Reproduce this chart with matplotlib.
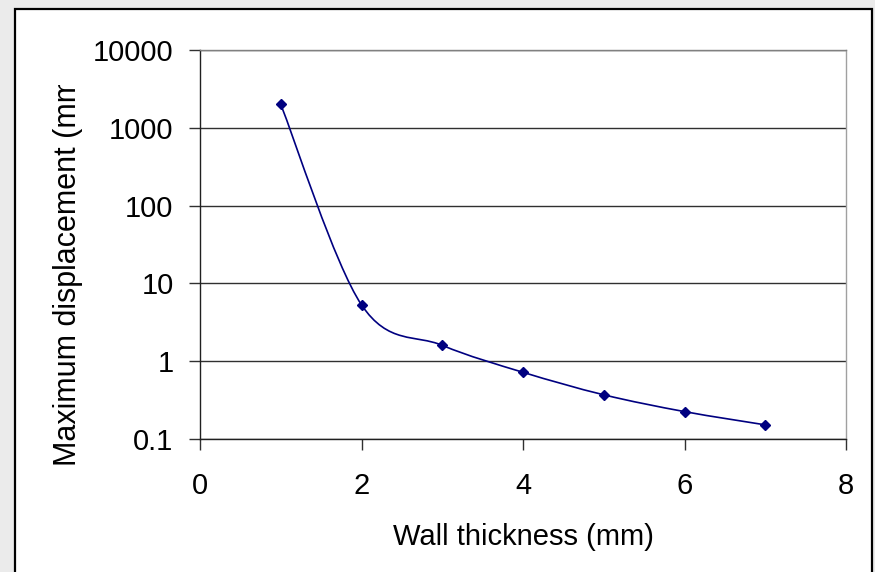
import numpy as np
import matplotlib
matplotlib.use("Agg")
import matplotlib.pyplot as plt
from matplotlib.path import Path
from matplotlib.patches import PathPatch, Rectangle
from matplotlib.transforms import Bbox

# Data
thickness = [1, 2, 3, 4, 5, 6, 7]                       # mm
displacement = [2000, 5.3, 1.6, 0.72, 0.37, 0.225, 0.152]  # mm

x_ticks = [0, 2, 4, 6, 8]
y_ticks = [0.1, 1, 10, 100, 1000, 10000]
y_tick_labels = ["0.1", "1", "10", "100", "1000", "10000"]

NAVY = "#000080"
plt.rcParams["font.family"] = ["Liberation Sans", "DejaVu Sans"]

fig = plt.figure(figsize=(8.75, 5.72), dpi=100, facecolor="#ebebeb")

# white chart area with black frame (like a pasted Excel chart)
frame = Rectangle((15 / 875, -0.05), (872 - 15) / 875, 1.05 - 9 / 572,
                  transform=fig.transFigure, facecolor="white",
                  edgecolor="black", lw=1.6, zorder=-5)
fig.patches.append(frame)

ax = fig.add_axes([200 / 875, 1 - 439 / 572, 646 / 875, 389 / 572])
ax.set_zorder(1)
ax.set_facecolor("white")
ax.set_yscale("log")
ax.set_xlim(0, 8)
ax.set_ylim(0.1, 10000)

# smoothed line (Catmull-Rom style bezier, built in x / log10(y) space)
px = np.array(thickness, dtype=float)
py = np.log10(displacement)
pts = np.column_stack([px, py])
ext = np.vstack([pts[0], pts, pts[-1]])
verts = [pts[0]]
codes = [Path.MOVETO]
for i in range(len(pts) - 1):
    p0, p1, p2, p3 = ext[i], ext[i + 1], ext[i + 2], ext[i + 3]
    c1 = p1 + (p2 - p0) / 6.0
    c2 = p2 - (p3 - p1) / 6.0
    verts += [c1, c2, p2]
    codes += [Path.CURVE4] * 3
verts = np.array(verts)
verts[:, 1] = 10 ** verts[:, 1]
ax.add_patch(PathPatch(Path(verts, codes), transform=ax.transData,
                       facecolor="none", edgecolor=NAVY, lw=1.2, zorder=3))

ax.plot(thickness, displacement, linestyle="none", marker="D", ms=5.5,
        color=NAVY, zorder=4)

ax.set_xticks(x_ticks)
ax.set_yticks(y_ticks)
ax.set_yticklabels(y_tick_labels)
ax.yaxis.set_minor_locator(matplotlib.ticker.NullLocator())

ax.grid(axis="y", color="#303030", lw=1.0)
ax.set_axisbelow(True)

for s in ["left", "bottom"]:
    ax.spines[s].set_color("#202020")
    ax.spines[s].set_linewidth(1.0)
ax.spines["top"].set_color("#808080")
ax.spines["top"].set_linewidth(1.0)
ax.spines["right"].set_color("#a0a0a0")
ax.spines["right"].set_linewidth(1.0)

ax.tick_params(axis="y", length=8, width=1.0, color="#303030",
               labelsize=21, pad=11)
ax.tick_params(axis="x", length=8, width=1.0, color="#303030",
               labelsize=21, pad=16)

ax.set_xlabel("Wall thickness (mm)", fontsize=21, labelpad=16)

# y label is cut off at the top in the original chart
ylab = fig.text(68 / 875, 1 - 466 / 572, "Maximum displacement (mm)",
                rotation=90, ha="center", va="bottom", fontsize=22)
ylab.set_clip_box(Bbox.from_extents(0, 0, 875, 572 - 85))
ylab.set_clip_on(True)

fig.savefig("out.png", dpi=100, facecolor=fig.get_facecolor())
